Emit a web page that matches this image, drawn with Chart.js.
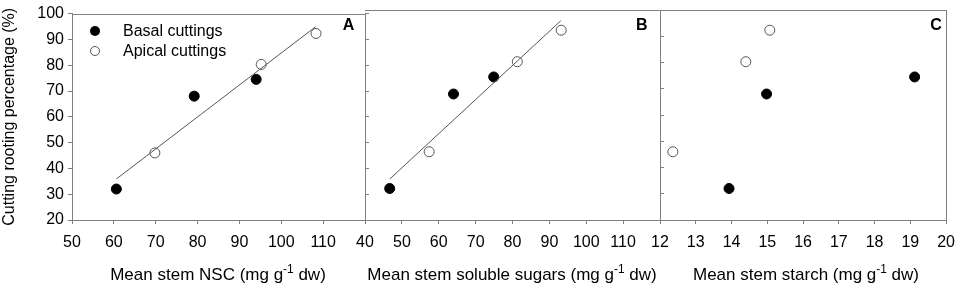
<!DOCTYPE html>
<html>
<head>
<meta charset="utf-8">
<script src="https://cdn.jsdelivr.net/npm/chart.js@4"></script>
<style>
  body { margin: 0; background: #fff; }
  #wrap { position: relative; width: 964px; height: 292px; font-family: "Liberation Sans", Arial, sans-serif; color: #000; }
  #wrap canvas { position: absolute; left: 0; top: 0; }
  .xt { position: absolute; top: 265px; font-size: 17px; line-height: 20px; white-space: nowrap; transform: translateX(-50%); }
  .xt sup { font-size: 0.7em; line-height: 0; }
  .lt { position: absolute; width: 20px; margin-left: -10px; text-align: center; font-weight: bold; font-size: 16px; line-height: 20px; top: 15px; }
  .lg { position: absolute; left: 123px; font-size: 16px; line-height: 20px; }
  .mk { position: absolute; width: 10px; height: 10px; border-radius: 50%; box-sizing: border-box; left: 90px; }
</style>
</head>
<body>
<div id="wrap">
  <canvas id="cA" width="964" height="292"></canvas>
  <canvas id="cB" width="964" height="292"></canvas>
  <canvas id="cC" width="964" height="292"></canvas>

  <div class="mk" style="top:26px;background:#000;"></div>
  <div class="lg" style="top:21px;">Basal cuttings</div>
  <div class="mk" style="top:46px;background:#fff;border:1px solid #555;"></div>
  <div class="lg" style="top:41px;">Apical cuttings</div>

  <div class="lt" style="left:348.5px;">A</div>
  <div class="lt" style="left:641.7px;">B</div>
  <div class="lt" style="left:936px;">C</div>

  <div class="xt" style="left:218px;">Mean stem NSC (mg g<sup>-1</sup> dw)</div>
  <div class="xt" style="left:512px;">Mean stem soluble sugars (mg g<sup>-1</sup> dw)</div>
  <div class="xt" style="left:806px;">Mean stem starch (mg g<sup>-1</sup> dw)</div>
</div>
<script>
// rooting % (same for every panel)
const rootingBasal = [32, 68, 74.5];
const rootingApical = [46, 80.3, 92.3];

// stem contents
const nscBasal = [60.6, 79.2, 94.0];
const nscApical = [69.8, 95.2, 108.3];
const sugarBasal = [46.7, 64.0, 74.9];
const sugarApical = [57.4, 81.3, 93.2];
const starchBasal = [13.93, 14.98, 19.12];
const starchApical = [12.36, 14.40, 15.07];

// fitted lines (end points)
const nscFitX = [60.6, 108.2];
const nscFitY = [35.9, 94.9];
const sugarFitX = [46.7, 93.1];
const sugarFitY = [35.6, 95.9];

// tick labels
const rootingTicks = [20, 30, 40, 50, 60, 70, 80, 90, 100];
const nscTicks = [50, 60, 70, 80, 90, 100, 110];
const sugarTicks = [40, 50, 60, 70, 80, 90, 100, 110];
const starchTicks = [12, 13, 14, 15, 16, 17, 18, 19, 20];

const FONT = '"Liberation Sans", Arial, sans-serif';
const AXIS = '#808080';

const pts = (xs, ys) => xs.map((x, i) => ({ x: x, y: ys[i] }));
const labelFrom = arr => v => arr.includes(v) ? String(v) : '';

const frame = {
    id: 'frame',
    afterDraw(chart, args, opts) {
        const a = chart.chartArea, c = chart.ctx;
        c.save();
        c.strokeStyle = AXIS;
        c.lineWidth = 1;
        c.beginPath();
        c.moveTo(a.left, Math.round(a.top) + 0.5);
        c.lineTo(a.right, Math.round(a.top) + 0.5);
        if (opts.right) {
            c.moveTo(Math.round(a.right) + 0.5, a.top);
            c.lineTo(Math.round(a.right) + 0.5, a.bottom);
        }
        c.stroke();
        c.restore();
    }
};

function panel(id, o) {
    const datasets = [
        { data: pts(o.basal, rootingBasal), backgroundColor: '#000', borderColor: '#000', borderWidth: 1, pointRadius: 5 },
        { data: pts(o.apical, rootingApical), backgroundColor: '#fff', borderColor: '#555', borderWidth: 1, pointRadius: 5 }
    ];
    if (o.fitX) {
        datasets.unshift({ data: pts(o.fitX, o.fitY), showLine: true, pointRadius: 0, borderColor: '#555', borderWidth: 1 });
    }
    const scales = {
        x: {
            type: 'linear', min: o.min, max: o.max,
            afterFit: s => { s.height = 72; },
            ticks: { stepSize: o.step, autoSkip: false, font: { family: FONT, size: 16 }, color: '#000', padding: 9, maxRotation: 0,
                     callback: labelFrom(o.ticks) },
            grid: { drawOnChartArea: false, tickLength: 4, color: AXIS },
            border: { display: true, color: AXIS, width: 1 }
        },
        y: {
            type: 'linear', min: 20, max: 100,
            display: o.leftAxis,
            afterFit: s => { if (o.leftAxis) s.width = 72; },
            ticks: { stepSize: 10, font: { family: FONT, size: 16 }, color: '#000', padding: 4, callback: labelFrom(rootingTicks) },
            grid: { drawOnChartArea: false, tickLength: 4, color: AXIS },
            border: { display: true, color: AXIS, width: 1 },
            title: { display: true, text: 'Cutting rooting percentage (%)', font: { family: FONT, size: 16 }, color: '#000', padding: { top: 0, bottom: 0 } }
        }
    };
    if (o.rightTicks) {
        scales.y2 = {
            type: 'linear', position: 'right', min: 20, max: 100,
            afterFit: s => { s.width = 4; },
            ticks: { display: false, stepSize: 10 },
            grid: { drawOnChartArea: false, tickLength: 4, color: AXIS },
            border: { display: true, color: AXIS, width: 1 }
        };
    }
    new Chart(document.getElementById(id), {
        type: 'scatter',
        data: { datasets: datasets },
        options: {
            responsive: false,
            animation: false,
            layout: { padding: o.pad },
            plugins: { legend: { display: false }, tooltip: { enabled: false }, frame: { right: o.frameRight } },
            scales: scales
        },
        plugins: [frame]
    });
}

panel('cA', { basal: nscBasal, apical: nscApical, fitX: nscFitX, fitY: nscFitY, min: 50, max: 120, step: 10, ticks: nscTicks,
    leftAxis: true, rightTicks: true, frameRight: false, pad: { left: 0, right: 964 - 365 - 4, top: 10, bottom: 0 } });
panel('cB', { basal: sugarBasal, apical: sugarApical, fitX: sugarFitX, fitY: sugarFitY, min: 40, max: 120, step: 10, ticks: sugarTicks,
    leftAxis: false, rightTicks: true, frameRight: false, pad: { left: 365, right: 964 - 660 - 4, top: 10, bottom: 0 } });
panel('cC', { basal: starchBasal, apical: starchApical, min: 12, max: 20, step: 1, ticks: starchTicks,
    leftAxis: false, rightTicks: false, frameRight: true, pad: { left: 660, right: 964 - 953, top: 10, bottom: 0 } });
</script>
</body>
</html>
